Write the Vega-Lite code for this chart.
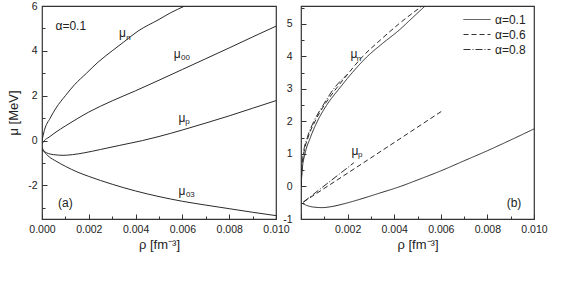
{
  "$schema": "https://vega.github.io/schema/vega-lite/v6.json",
  "padding": {"left": 7, "top": 0, "right": 5, "bottom": 5},
  "background": "white",
  "bounds": "flush",
  "spacing": 25,
  "config": {
    "font": "Liberation Sans",
    "view": {"stroke": "#333", "strokeWidth": 1.2},
    "axis": {"domain": false, "grid": false, "tickColor": "#333", "tickWidth": 1, "labelColor": "#222", "labelFont": "Liberation Sans", "labelFontSize": 10.5, "titleFont": "Liberation Sans", "titleFontSize": 13, "titleFontWeight": "normal", "titleColor": "#222"},
    "text": {"font": "Liberation Sans", "fill": "#222"}
  },
  "datasets": {
    "left": [
      {"curve": "n", "rho": 0, "mu": 0}, {"curve": "n", "rho": 0.0001, "mu": 0.45}, {"curve": "n", "rho": 0.00035, "mu": 1.0}, {"curve": "n", "rho": 0.0006, "mu": 1.45}, {"curve": "n", "rho": 0.001, "mu": 2.0}, {"curve": "n", "rho": 0.0014, "mu": 2.5}, {"curve": "n", "rho": 0.0019, "mu": 3.0}, {"curve": "n", "rho": 0.0024, "mu": 3.5}, {"curve": "n", "rho": 0.003, "mu": 4.0}, {"curve": "n", "rho": 0.0035, "mu": 4.4}, {"curve": "n", "rho": 0.0041, "mu": 4.88}, {"curve": "n", "rho": 0.005, "mu": 5.4}, {"curve": "n", "rho": 0.0055, "mu": 5.7}, {"curve": "n", "rho": 0.0061, "mu": 6.0}, {"curve": "n", "rho": 0.0065, "mu": 6.2},
      {"curve": "00", "rho": 0, "mu": -0.15}, {"curve": "00", "rho": 0.0001, "mu": 0.0}, {"curve": "00", "rho": 0.0003, "mu": 0.15}, {"curve": "00", "rho": 0.0006, "mu": 0.38}, {"curve": "00", "rho": 0.001, "mu": 0.65}, {"curve": "00", "rho": 0.0015, "mu": 0.97}, {"curve": "00", "rho": 0.002, "mu": 1.27}, {"curve": "00", "rho": 0.003, "mu": 1.77}, {"curve": "00", "rho": 0.004, "mu": 2.22}, {"curve": "00", "rho": 0.005, "mu": 2.69}, {"curve": "00", "rho": 0.006, "mu": 3.17}, {"curve": "00", "rho": 0.007, "mu": 3.65}, {"curve": "00", "rho": 0.008, "mu": 4.13}, {"curve": "00", "rho": 0.009, "mu": 4.62}, {"curve": "00", "rho": 0.01, "mu": 5.1},
      {"curve": "p", "rho": 0, "mu": -0.42}, {"curve": "p", "rho": 0.0002, "mu": -0.55}, {"curve": "p", "rho": 0.0005, "mu": -0.63}, {"curve": "p", "rho": 0.0009, "mu": -0.66}, {"curve": "p", "rho": 0.0013, "mu": -0.63}, {"curve": "p", "rho": 0.0018, "mu": -0.55}, {"curve": "p", "rho": 0.0025, "mu": -0.4}, {"curve": "p", "rho": 0.0033, "mu": -0.22}, {"curve": "p", "rho": 0.0043, "mu": 0.0}, {"curve": "p", "rho": 0.005, "mu": 0.18}, {"curve": "p", "rho": 0.006, "mu": 0.47}, {"curve": "p", "rho": 0.007, "mu": 0.78}, {"curve": "p", "rho": 0.008, "mu": 1.1}, {"curve": "p", "rho": 0.009, "mu": 1.44}, {"curve": "p", "rho": 0.01, "mu": 1.78},
      {"curve": "03", "rho": 0, "mu": -0.3}, {"curve": "03", "rho": 0.0001, "mu": -0.5}, {"curve": "03", "rho": 0.0003, "mu": -0.72}, {"curve": "03", "rho": 0.0006, "mu": -0.92}, {"curve": "03", "rho": 0.001, "mu": -1.15}, {"curve": "03", "rho": 0.0015, "mu": -1.4}, {"curve": "03", "rho": 0.002, "mu": -1.6}, {"curve": "03", "rho": 0.003, "mu": -1.95}, {"curve": "03", "rho": 0.004, "mu": -2.25}, {"curve": "03", "rho": 0.005, "mu": -2.5}, {"curve": "03", "rho": 0.006, "mu": -2.71}, {"curve": "03", "rho": 0.007, "mu": -2.88}, {"curve": "03", "rho": 0.008, "mu": -3.04}, {"curve": "03", "rho": 0.009, "mu": -3.2}, {"curve": "03", "rho": 0.01, "mu": -3.35}
    ],
    "right": [
      {"curve": "n0.1", "alpha": "α=0.1", "rho": 0, "mu": 0}, {"curve": "n0.1", "alpha": "α=0.1", "rho": 0.00005, "mu": 0.5}, {"curve": "n0.1", "alpha": "α=0.1", "rho": 0.00017, "mu": 1.0}, {"curve": "n0.1", "alpha": "α=0.1", "rho": 0.0004, "mu": 1.5}, {"curve": "n0.1", "alpha": "α=0.1", "rho": 0.0007, "mu": 2.0}, {"curve": "n0.1", "alpha": "α=0.1", "rho": 0.0011, "mu": 2.5}, {"curve": "n0.1", "alpha": "α=0.1", "rho": 0.00163, "mu": 3.0}, {"curve": "n0.1", "alpha": "α=0.1", "rho": 0.0022, "mu": 3.5}, {"curve": "n0.1", "alpha": "α=0.1", "rho": 0.00285, "mu": 4.0}, {"curve": "n0.1", "alpha": "α=0.1", "rho": 0.0035, "mu": 4.4}, {"curve": "n0.1", "alpha": "α=0.1", "rho": 0.0042, "mu": 4.8}, {"curve": "n0.1", "alpha": "α=0.1", "rho": 0.0048, "mu": 5.2}, {"curve": "n0.1", "alpha": "α=0.1", "rho": 0.00533, "mu": 5.55}, {"curve": "n0.1", "alpha": "α=0.1", "rho": 0.006, "mu": 5.95},
      {"curve": "p0.1", "alpha": "α=0.1", "rho": 0, "mu": -0.5}, {"curve": "p0.1", "alpha": "α=0.1", "rho": 0.0002, "mu": -0.57}, {"curve": "p0.1", "alpha": "α=0.1", "rho": 0.0005, "mu": -0.63}, {"curve": "p0.1", "alpha": "α=0.1", "rho": 0.0009, "mu": -0.65}, {"curve": "p0.1", "alpha": "α=0.1", "rho": 0.0013, "mu": -0.62}, {"curve": "p0.1", "alpha": "α=0.1", "rho": 0.0018, "mu": -0.54}, {"curve": "p0.1", "alpha": "α=0.1", "rho": 0.0025, "mu": -0.4}, {"curve": "p0.1", "alpha": "α=0.1", "rho": 0.0033, "mu": -0.22}, {"curve": "p0.1", "alpha": "α=0.1", "rho": 0.00426, "mu": 0.0}, {"curve": "p0.1", "alpha": "α=0.1", "rho": 0.005, "mu": 0.2}, {"curve": "p0.1", "alpha": "α=0.1", "rho": 0.006, "mu": 0.48}, {"curve": "p0.1", "alpha": "α=0.1", "rho": 0.007, "mu": 0.79}, {"curve": "p0.1", "alpha": "α=0.1", "rho": 0.008, "mu": 1.1}, {"curve": "p0.1", "alpha": "α=0.1", "rho": 0.009, "mu": 1.43}, {"curve": "p0.1", "alpha": "α=0.1", "rho": 0.01, "mu": 1.77},
      {"curve": "n0.6", "alpha": "α=0.6", "rho": 0, "mu": 0}, {"curve": "n0.6", "alpha": "α=0.6", "rho": 0.00004, "mu": 0.5}, {"curve": "n0.6", "alpha": "α=0.6", "rho": 0.00012, "mu": 1.0}, {"curve": "n0.6", "alpha": "α=0.6", "rho": 0.0003, "mu": 1.5}, {"curve": "n0.6", "alpha": "α=0.6", "rho": 0.0006, "mu": 2.0}, {"curve": "n0.6", "alpha": "α=0.6", "rho": 0.001, "mu": 2.5}, {"curve": "n0.6", "alpha": "α=0.6", "rho": 0.0015, "mu": 3.0}, {"curve": "n0.6", "alpha": "α=0.6", "rho": 0.002, "mu": 3.45}, {"curve": "n0.6", "alpha": "α=0.6", "rho": 0.00265, "mu": 4.0}, {"curve": "n0.6", "alpha": "α=0.6", "rho": 0.0034, "mu": 4.5}, {"curve": "n0.6", "alpha": "α=0.6", "rho": 0.0042, "mu": 5.0}, {"curve": "n0.6", "alpha": "α=0.6", "rho": 0.0052, "mu": 5.55},
      {"curve": "p0.6", "alpha": "α=0.6", "rho": 0.0001, "mu": -0.48}, {"curve": "p0.6", "alpha": "α=0.6", "rho": 0.003, "mu": 0.88}, {"curve": "p0.6", "alpha": "α=0.6", "rho": 0.00607, "mu": 2.33},
      {"curve": "n0.8", "alpha": "α=0.8", "rho": 0, "mu": 0}, {"curve": "n0.8", "alpha": "α=0.8", "rho": 0.00003, "mu": 0.5}, {"curve": "n0.8", "alpha": "α=0.8", "rho": 0.0001, "mu": 1.0}, {"curve": "n0.8", "alpha": "α=0.8", "rho": 0.00027, "mu": 1.5}, {"curve": "n0.8", "alpha": "α=0.8", "rho": 0.00055, "mu": 2.0}, {"curve": "n0.8", "alpha": "α=0.8", "rho": 0.00095, "mu": 2.5}, {"curve": "n0.8", "alpha": "α=0.8", "rho": 0.0014, "mu": 3.0}, {"curve": "n0.8", "alpha": "α=0.8", "rho": 0.002, "mu": 3.45},
      {"curve": "p0.8", "alpha": "α=0.8", "rho": 0.0001, "mu": -0.48}, {"curve": "p0.8", "alpha": "α=0.8", "rho": 0.00227, "mu": 0.73}
    ],
    "leftText": [
      {"rho": 0.00123, "mu": 5.1, "label": "α=0.1"},
      {"rho": 0.00344, "mu": 4.79, "label": "μ"},
      {"rho": 0.00578, "mu": 3.85, "label": "μ"},
      {"rho": 0.00598, "mu": 1.0, "label": "μ"},
      {"rho": 0.00598, "mu": -2.26, "label": "μ"},
      {"rho": 0.001, "mu": -2.79, "label": "(a)"}
    ],
    "leftSub": [
      {"rho": 0.00369, "mu": 4.57, "label": "n"},
      {"rho": 0.00613, "mu": 3.67, "label": "00"},
      {"rho": 0.00622, "mu": 0.83, "label": "p"},
      {"rho": 0.00634, "mu": -2.44, "label": "03"}
    ],
    "rightText": [
      {"rho": 0.00227, "mu": 4.07, "label": "μ"},
      {"rho": 0.00232, "mu": 1.1, "label": "μ"},
      {"rho": 0.00914, "mu": -0.51, "label": "(b)"}
    ],
    "rightSub": [
      {"rho": 0.00249, "mu": 3.92, "label": "n"},
      {"rho": 0.00254, "mu": 0.98, "label": "p"}
    ]
  },
  "hconcat": [
    {
      "width": 234,
      "height": 213,
      "encoding": {
        "x": {"field": "rho", "type": "quantitative", "scale": {"domain": [0, 0.01], "nice": false},
          "axis": {"title": "ρ [fm⁻³]", "values": [0, 0.001, 0.002, 0.003, 0.004, 0.005, 0.006, 0.007, 0.008, 0.009, 0.01],
            "labelExpr": "round(datum.value*1000) % 2 == 0 ? format(datum.value, '.3f') : ''",
            "tickSize": {"condition": {"test": "round(datum.value*1000) % 2 == 0", "value": -5}, "value": -3},
            "labelPadding": 10, "titlePadding": 4, "labelFlush": false}},
        "y": {"field": "mu", "type": "quantitative", "scale": {"domain": [-3.5, 6], "nice": false},
          "axis": {"title": "μ [MeV]", "values": [-3, -2, -1, 0, 1, 2, 3, 4, 5, 6],
            "labelExpr": "datum.value % 2 == 0 ? toString(datum.value) : ''",
            "tickSize": {"condition": {"test": "datum.value % 2 == 0", "value": -5}, "value": -3},
            "labelPadding": 10, "titlePadding": 7}}
      },
      "layer": [
        {"data": {"name": "left"}, "mark": {"type": "line", "color": "#2a2a2a", "strokeWidth": 1, "clip": true, "interpolate": "monotone"},
          "encoding": {"detail": {"field": "curve"}}},
        {"mark": {"type": "rule", "color": "#555", "strokeWidth": 1.3}, "encoding": {"y": {"datum": 0}}},
        {"data": {"name": "leftText"}, "mark": {"type": "text", "fontSize": 12, "baseline": "middle", "align": "center", "fill": "#222"},
          "encoding": {"text": {"field": "label"}}},
        {"data": {"name": "leftSub"}, "mark": {"type": "text", "fontSize": 8, "baseline": "middle", "align": "center", "fill": "#222"},
          "encoding": {"text": {"field": "label"}}}
      ]
    },
    {
      "width": 233,
      "height": 213,
      "encoding": {
        "x": {"field": "rho", "type": "quantitative", "scale": {"domain": [0, 0.01], "nice": false},
          "axis": {"title": "ρ [fm⁻³]", "values": [0, 0.001, 0.002, 0.003, 0.004, 0.005, 0.006, 0.007, 0.008, 0.009, 0.01],
            "labelExpr": "(round(datum.value*1000) % 2 == 0 && datum.value > 0) ? format(datum.value, '.3f') : ''",
            "tickSize": {"condition": {"test": "round(datum.value*1000) % 2 == 0", "value": -5}, "value": -3},
            "labelPadding": 10, "titlePadding": 4, "labelFlush": false}},
        "y": {"field": "mu", "type": "quantitative", "scale": {"domain": [-1, 5.55], "nice": false},
          "axis": {"title": null, "values": [-1, -0.5, 0, 0.5, 1, 1.5, 2, 2.5, 3, 3.5, 4, 4.5, 5, 5.5],
            "labelExpr": "datum.value % 1 == 0 ? toString(datum.value) : ''",
            "tickSize": {"condition": {"test": "datum.value % 1 == 0", "value": -5}, "value": -3},
            "labelPadding": 14}}
      },
      "layer": [
        {"data": {"name": "right"}, "mark": {"type": "line", "color": "#2a2a2a", "strokeWidth": 1, "clip": true, "interpolate": "monotone"},
          "encoding": {"detail": {"field": "curve"},
            "strokeDash": {"field": "alpha", "type": "nominal",
              "scale": {"domain": ["α=0.1", "α=0.6", "α=0.8"], "range": [[1, 0], [5, 3], [7, 2, 1, 2]]},
              "legend": {"orient": "none", "legendX": 421, "legendY": 7, "title": null, "symbolType": "stroke", "symbolSize": 729, "symbolStrokeWidth": 1, "symbolStrokeColor": "#333", "clipHeight": 13, "rowPadding": 2, "labelFontSize": 12, "labelFont": "Liberation Sans", "labelColor": "#222", "labelOffset": 4, "padding": 0}}}},
        {"mark": {"type": "rule", "color": "#555", "strokeWidth": 1.3}, "encoding": {"y": {"datum": 0}}},
        {"data": {"name": "rightText"}, "mark": {"type": "text", "fontSize": 12, "baseline": "middle", "align": "center", "fill": "#222"},
          "encoding": {"text": {"field": "label"}}},
        {"data": {"name": "rightSub"}, "mark": {"type": "text", "fontSize": 8, "baseline": "middle", "align": "center", "fill": "#222"},
          "encoding": {"text": {"field": "label"}}}
      ]
    }
  ]
}
